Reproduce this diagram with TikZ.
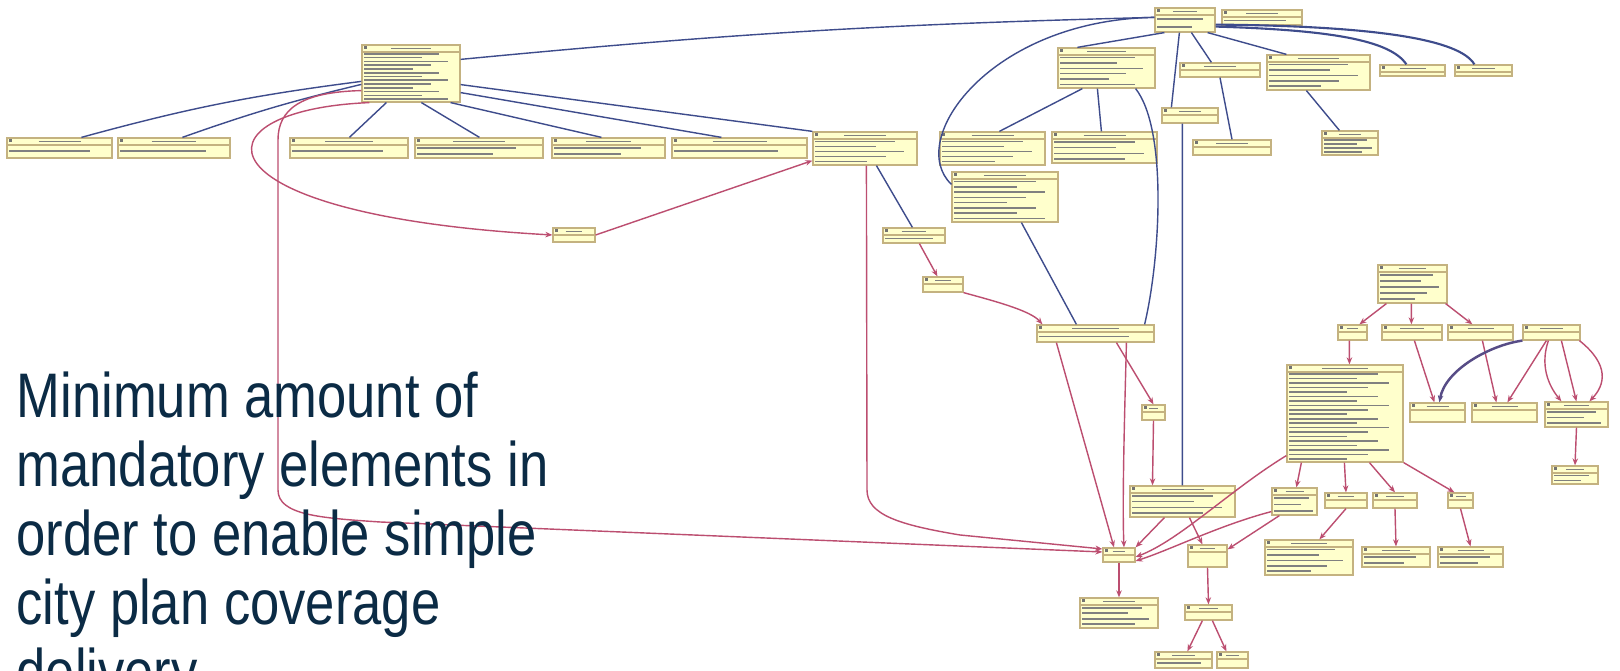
\documentclass[tikz,border=0pt]{standalone}
\usepackage{fontspec}
\newfontfamily\slidefont[FakeStretch=0.835]{Liberation Sans}
\usetikzlibrary{calc,fit,arrows.meta}
\definecolor{slideblue}{RGB}{11,43,69}
\definecolor{clsfill}{RGB}{255,255,204}
\definecolor{clsdraw}{RGB}{196,178,128}
\definecolor{assocblue}{RGB}{62,76,140}
\definecolor{assocred}{RGB}{188,78,112}
\tikzset{
  umlcls/.style={draw=clsdraw, fill=clsfill, line width=0.35pt, inner sep=0pt},
  txtline/.style={draw=black!50, line width=0.45pt},
  blueedge/.style={draw=assocblue, line width=0.4pt},
  rededge/.style={draw=assocred, line width=0.4pt, -{Stealth[length=0.7mm,width=0.55mm]}},
  slidetext/.style={text=slideblue, font=\slidefont\fontsize{17.9}{19.6}\selectfont, inner sep=0pt, anchor=base west}
}
% class box: name, x1, y1, x2, y2, number of attribute lines
\newcommand{\umlclass}[6]{%
  \node[umlcls, fit={(#2,#3) (#4,#5)}] (#1) {};
  \draw[clsdraw, line width=0.3pt] (#2,#3+7) -- (#4,#3+7);
  \fill[black!55] (#2+1.5,#3+1.5) rectangle ++(3,3);
  \draw[txtline] ({(#2+#4)/2-(#4-#2)*0.2},#3+3.7) -- ({(#2+#4)/2+(#4-#2)*0.2},#3+3.7);
  \ifnum#6>0
    \foreach \i in {1,...,#6} {
      \pgfmathsetmacro\yy{#3+7+(\i-0.5)*(#5-#3-8)/#6}
      \pgfmathsetmacro\ll{(#4-#2)*(0.5+0.09*mod(\i*3,5))}
      \draw[txtline] (#2+2,\yy) -- ++(\ll,0);
    }
  \fi
}

\begin{document}
\begin{tikzpicture}[x=0.01cm,y=-0.01cm]
  \useasboundingbox (0,0) rectangle (1620,671);
  \fill[white] (0,0) rectangle (1620,671);

  %%%%% CLASSES %%%%%
  \umlclass{site}{362}{45}{460}{102}{13}
  \umlclass{buildarea}{7}{138}{112}{158}{1}
  \umlclass{landuse}{118}{138}{230}{158}{1}
  \umlclass{greenzone}{290}{138}{408}{158}{1}
  \umlclass{infrazone}{415}{138}{543}{158}{2}
  \umlclass{heritage}{552}{138}{665}{158}{2}
  \umlclass{riskzone}{672}{138}{807}{158}{1}
  \umlclass{docref}{813}{132}{917}{165}{5}
  \umlclass{stakeholder}{553}{228}{595}{242}{0}

  \umlclass{planobject}{1155}{8}{1215}{32}{2}
  \umlclass{codeset}{1222}{10}{1302}{25}{1}
  \umlclass{regulation}{1058}{48}{1155}{88}{6}
  \umlclass{boundary}{1180}{63}{1260}{77}{0}
  \umlclass{planmeasure}{1267}{55}{1370}{90}{5}
  \umlclass{extinfo}{1380}{65}{1445}{76}{0}
  \umlclass{extlink}{1455}{65}{1512}{76}{0}
  \umlclass{areareg}{940}{132}{1045}{165}{5}
  \umlclass{linereg}{1052}{132}{1157}{163}{4}
  \umlclass{planreg}{952}{172}{1058}{222}{8}
  \umlclass{function}{1162}{108}{1218}{123}{0}
  \umlclass{boundline}{1193}{140}{1271}{155}{0}
  \umlclass{measurearea}{1322}{131}{1378}{155}{4}

  \umlclass{contact}{883}{228}{945}{243}{1}
  \umlclass{controle}{923}{277}{963}{292}{0}
  \umlclass{orgunit}{1037}{325}{1154}{342}{1}
  \umlclass{linkpt}{1142}{405}{1165}{420}{0}

  \umlclass{codelist}{1378}{265}{1447}{303}{5}
  \umlclass{layer}{1338}{325}{1367}{340}{0}
  \umlclass{typegroup}{1382}{325}{1442}{340}{0}
  \umlclass{kindgroup}{1448}{325}{1513}{340}{0}
  \umlclass{valuegroup}{1523}{325}{1580}{340}{0}
  \umlclass{feature}{1287}{365}{1403}{462}{20}
  \umlclass{typevalue}{1410}{403}{1465}{422}{0}
  \umlclass{kindvalue}{1472}{403}{1537}{422}{0}
  \umlclass{valuedef}{1545}{402}{1608}{427}{3}
  \umlclass{valueunit}{1552}{466}{1598}{484}{2}

  \umlclass{planlink}{1130}{486}{1235}{517}{4}
  \umlclass{geometry}{1272}{488}{1317}{515}{3}
  \umlclass{surface}{1325}{493}{1367}{508}{0}
  \umlclass{curve}{1373}{493}{1417}{508}{0}
  \umlclass{point}{1448}{493}{1473}{508}{0}
  \umlclass{location}{1103}{548}{1135}{562}{0}
  \umlclass{localref}{1188}{545}{1227}{567}{0}
  \umlclass{polygon}{1265}{540}{1353}{575}{5}
  \umlclass{polyline}{1362}{547}{1430}{567}{2}
  \umlclass{coord}{1438}{547}{1503}{567}{2}
  \umlclass{address}{1080}{598}{1158}{628}{4}
  \umlclass{refsystem}{1185}{605}{1232}{620}{0}
  \umlclass{crsname}{1155}{652}{1212}{668}{1}
  \umlclass{crscode}{1217}{652}{1248}{668}{0}

  %%%%% BLUE LINKS %%%%%
  \draw[blueedge] ([xshift=7.5mm]buildarea.north west) to[bend left=4] ([yshift=-3.7mm]site.north west);
  \draw[blueedge] ([xshift=6.5mm]landuse.north west) to[bend left=3] ([yshift=-4mm]site.north west);
  \draw[blueedge] ([xshift=2.5mm]site.south west) -- ([xshift=6mm]greenzone.north west);
  \draw[blueedge] ([xshift=6mm]site.south west) -- ([xshift=6.5mm]infrazone.north west);
  \draw[blueedge] ([xshift=-1mm]site.south east) -- ([xshift=5mm]heritage.north west);
  \draw[blueedge] ([yshift=1mm]site.south east) -- ([xshift=5mm]riskzone.north west);
  \draw[blueedge] ([yshift=1.8mm]site.south east) -- (docref.north west);
  \draw[blueedge] ([yshift=-1.5mm]site.north east) to[bend left=2] ([yshift=-1mm]planobject.north west);

  \draw[blueedge] ([xshift=1mm]planobject.south west) -- ([xshift=2mm]regulation.north west);
  \draw[blueedge] ([xshift=2.5mm]planobject.south west) -- ([xshift=1mm]function.north west);
  \draw[blueedge] ([xshift=3.7mm]planobject.south west) -- ([xshift=3.2mm]boundary.north west);
  \draw[blueedge] ([xshift=-0.8mm]planobject.south east) -- ([xshift=2mm]planmeasure.north west);
  \draw[blueedge, line width=0.6pt] ([yshift=0.6mm]planobject.south east) .. controls (1330,30) and (1390,40) .. ([xshift=2.7mm]extinfo.north west);
  \draw[blueedge, line width=0.6pt] ([yshift=0.8mm]planobject.south east) .. controls (1380,26) and (1460,40) .. ([xshift=2mm]extlink.north west);
  \draw[blueedge] ([yshift=-1mm]planobject.north west) .. controls (990,20) and (905,140) .. ([yshift=-1.3mm]planreg.north west);

  \draw[blueedge] ([xshift=2.5mm]regulation.south west) -- ([xshift=6mm]areareg.north west);
  \draw[blueedge] ([xshift=4mm]regulation.south west) -- ([xshift=5mm]linereg.north west);
  \draw[blueedge] ([xshift=-2mm]regulation.south east) .. controls (1168,130) and (1160,260) .. ([xshift=-1mm]orgunit.north east);
  \draw[blueedge] ([xshift=7mm]planreg.south west) -- ([xshift=4mm]orgunit.north west);
  \draw[blueedge] ([xshift=2.1mm]function.south west) -- ([xshift=5.3mm]planlink.north west);
  \draw[blueedge] (boundary.south) -- (boundline.north);
  \draw[blueedge] ([xshift=4mm]planmeasure.south west) -- ([xshift=1.8mm]measurearea.north west);
  \draw[blueedge] ([xshift=6.4mm]docref.south west) -- ([xshift=3mm]contact.north west);

  %%%%% RED LINKS %%%%%
  \draw[rededge] ([xshift=0.8mm]site.south west) .. controls (190,110) and (190,215) .. (stakeholder.west);
  \draw[rededge] (stakeholder.east) -- ([yshift=0.5mm]docref.south west);
  \draw[rededge] ([yshift=1.2mm]site.south west) .. controls (300,92) and (278,110) .. (278,140) -- (278,490) .. controls (278,515) and (320,518) .. (380,522) -- ([yshift=0.3mm]location.west);
  \draw[rededge] ([xshift=5.4mm]docref.south west) -- (867,490) .. controls (867,515) and (900,525) .. (960,535) -- ([yshift=0.6mm]location.west);
  \draw[rededge] ([xshift=3.7mm]contact.south west) -- ([xshift=1.5mm]controle.north west);
  \draw[rededge] (controle.south east) .. controls (990,300) and (1030,310) .. ([xshift=0.6mm]orgunit.north west);
  \draw[rededge] ([xshift=2mm]orgunit.south west) -- ([xshift=-0.5mm]location.north);
  \draw[rededge] ([xshift=9mm]orgunit.south west) .. controls (1125,400) and (1122,500) .. ([xshift=0.5mm]location.north);
  \draw[rededge] ([xshift=8mm]orgunit.south west) -- (linkpt.north);
  \draw[rededge] (linkpt.south) -- ([xshift=-3mm]planlink.north);
  \draw[rededge] ([xshift=3.5mm]planlink.south west) -- (location.north east);
  \draw[rededge] ([xshift=6mm]planlink.south west) -- ([xshift=1.5mm]localref.north west);
  \draw[rededge] ([yshift=0.7mm]feature.south west) .. controls (1230,490) and (1180,540) .. ([yshift=-0.2mm]location.east);
  \draw[rededge] ([yshift=0.4mm]geometry.south west) .. controls (1220,525) and (1170,550) .. ([yshift=-0.6mm]location.east);
  \draw[rededge] ([xshift=0.8mm]geometry.south west) -- ([yshift=-0.5mm]localref.north east);
  \draw[rededge] ([xshift=1.5mm]feature.south west) -- ([xshift=2.5mm]geometry.north west);
  \draw[rededge] ([xshift=5.8mm]feature.south west) -- (surface.north);
  \draw[rededge] ([xshift=8.3mm]feature.south west) -- (curve.north);
  \draw[rededge] (feature.south east) -- ([xshift=0.7mm]point.north west);
  \draw[rededge] (surface.south) -- ([xshift=5.5mm]polygon.north west);
  \draw[rededge] (curve.south) -- (polyline.north);
  \draw[rededge] (point.south) -- (coord.north);
  \draw[rededge] (location.south) -- (address.north);
  \draw[rededge] (localref.south) -- (refsystem.north);
  \draw[rededge] ([xshift=1.8mm]refsystem.south west) -- ([xshift=3.3mm]crsname.north west);
  \draw[rededge] ([xshift=2.8mm]refsystem.south west) -- ([xshift=1mm]crscode.north west);

  \draw[rededge] ([xshift=0.9mm]codelist.south west) -- ([xshift=2.2mm]layer.north west);
  \draw[rededge] ([xshift=3.4mm]codelist.south west) -- ([xshift=3mm]typegroup.north west);
  \draw[rededge] ([xshift=-0.2mm]codelist.south east) -- ([xshift=2.5mm]kindgroup.north west);
  \draw[rededge] ([xshift=1.2mm]layer.south west) -- ([xshift=6.3mm]feature.north west);
  \draw[rededge] ([xshift=3.3mm]typegroup.south west) -- ([xshift=2.5mm]typevalue.north west);
  \draw[rededge] ([xshift=3.5mm]kindgroup.south west) -- ([xshift=2.5mm]kindvalue.north west);
  \draw[rededge, draw=assocblue!80!assocred, line width=0.7pt] (valuegroup.south west) .. controls (1490,345) and (1445,370) .. ([xshift=3mm]typevalue.north west);
  \draw[rededge] ([xshift=2.4mm]valuegroup.south west) -- ([xshift=3.6mm]kindvalue.north west);
  \draw[rededge] ([xshift=2.6mm]valuegroup.south west) .. controls (1540,365) and (1548,385) .. ([xshift=1.7mm]valuedef.north west);
  \draw[rededge] ([xshift=3.9mm]valuegroup.south west) -- ([xshift=3.2mm]valuedef.north west);
  \draw[rededge] ([xshift=5.7mm]valuegroup.south west) .. controls (1610,365) and (1605,385) .. ([xshift=4.5mm]valuedef.north west);
  \draw[rededge] (valuedef.south) -- (valueunit.north);

  %%%%% TITLE %%%%%
  \foreach \txt [count=\k] in {Minimum amount of, mandatory elements in, order to enable simple, city plan coverage, delivery}
    \node[slidetext] (title\k) at (16,{418+69*(\k-1)}) {\txt};
\end{tikzpicture}
\end{document}
